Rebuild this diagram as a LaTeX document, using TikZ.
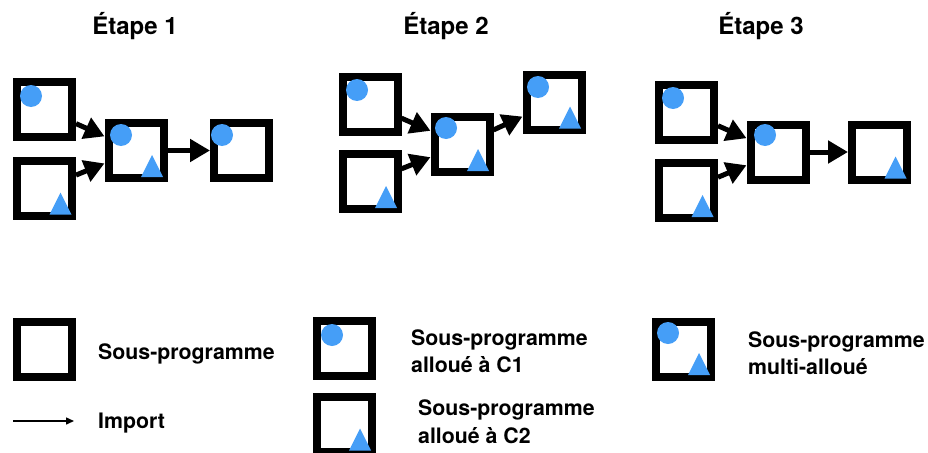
\documentclass[tikz,border=0pt]{standalone}
\usepackage{fontspec}
\setmainfont{TeX Gyre Heros}
\usetikzlibrary{arrows.meta,calc}
\definecolor{blueish}{HTML}{459EF7}
\tikzset{
  sub/.style={draw=black,line width=8pt,minimum size=55pt,inner sep=0pt,fill=white},
  imp/.style={line width=5pt,-{Triangle[length=20pt,width=22pt]}},
  title/.style={font=\fontsize{24}{28}\selectfont\bfseries,anchor=base},
  lbl/.style={font=\fontsize{21.3}{27}\selectfont\bfseries,anchor=base west,inner sep=0pt},
}
\newcommand{\dotin}[3]{\fill[blueish] ($(#1)+(#2,#3)$) circle[radius=11pt];}
\newcommand{\triin}[1]{\fill[blueish] ($(#1)+(5,26.5)$) -- ($(#1)+(27,26.5)$) -- ($(#1)+(16,4.5)$) -- cycle;}
\begin{document}
\begin{tikzpicture}[x=1pt,y=-1pt]
\useasboundingbox[fill=white] (0,0) rectangle (928,452);
% titles
\node[title] (t1) at (135,35) {Étape 1};
\node[title] (t2) at (446,35) {Étape 2};
\node[title] (t3) at (761,35) {Étape 3};
% stage 1
\node[sub] (a1) at (44.5,109.5) {};
\node[sub] (b1) at (44.5,188) {};
\node[sub] (c1) at (136,150.5) {};
\node[sub] (d1) at (241.5,150.5) {};
\draw[imp] (a1) -- (c1);
\draw[imp] (b1) -- (c1);
\draw[imp] (c1) -- (d1);
\dotin{a1}{-13.5}{-13.5}
\triin{b1}
\dotin{c1}{-15}{-15.5}
\triin{c1}
\dotin{d1}{-19.5}{-15.5}
% stage 2
\node[sub] (a2) at (370,104.5) {};
\node[sub] (b2) at (370,181.5) {};
\node[sub] (c2) at (462,144.5) {};
\node[sub] (d2) at (554,102) {};
\draw[imp] (a2) -- (c2);
\draw[imp] (b2) -- (c2);
\draw[imp] (c2) -- (d2);
\dotin{a2}{-13}{-14.5}
\triin{b2}
\dotin{c2}{-16}{-16.5}
\triin{c2}
\dotin{d2}{-16}{-15}
\triin{d2}
% stage 3
\node[sub] (a3) at (686.5,112) {};
\node[sub] (b3) at (686.5,190.5) {};
\node[sub] (c3) at (778,152) {};
\node[sub] (d3) at (879.5,152) {};
\draw[imp] (a3) -- (c3);
\draw[imp] (b3) -- (c3);
\draw[imp] (c3) -- (d3);
\dotin{a3}{-13.5}{-14}
\triin{b3}
\dotin{c3}{-13}{-17}
\triin{d3}
% legend
\node[sub] (l1) at (44.5,349.5) {};
\node[lbl] (l1t) at (98,359) {Sous-programme};
\coordinate (ia) at (13,421);
\coordinate (ib) at (74,421);
\draw[line width=1.5pt,-{Triangle[length=8pt,width=7pt]}] (ia) -- (ib);
\node[lbl] (it) at (98,428) {Import};
\node[sub] (l2) at (344,348.5) {};
\dotin{l2}{-12}{-13.5}
\node[lbl] (l2t) at (411,345) {Sous-programme};
\node[lbl] (l2u) at (411,372) {alloué à C1};
\node[sub] (l3) at (344,424) {};
\triin{l3}
\node[lbl] (l3t) at (418,415) {Sous-programme};
\node[lbl] (l3u) at (418,443) {alloué à C2};
\node[sub] (l4) at (683.5,349) {};
\dotin{l4}{-15.5}{-16}
\fill[blueish] ($(l4)+(4.5,26)$) -- ($(l4)+(26.5,26)$) -- ($(l4)+(15.5,4)$) -- cycle;
\node[lbl] (l4t) at (748,347) {Sous-programme};
\node[lbl] (l4u) at (748,374) {multi-alloué};
\end{tikzpicture}
\end{document}
